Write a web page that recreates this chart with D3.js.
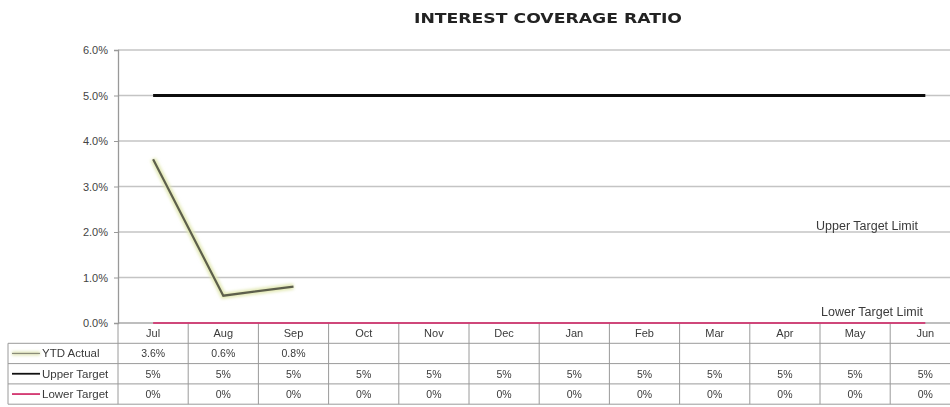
<!DOCTYPE html>
<html>
<head>
<meta charset="utf-8">
<script src="https://cdn.jsdelivr.net/npm/d3@7/dist/d3.min.js"></script>
<style>
  html, body { margin: 0; padding: 0; background: #fff; overflow: hidden; }
  svg { display: block; }
  .lbl { font-family: "Liberation Sans Narrow", "Arial Narrow", "Liberation Sans", Arial, sans-serif; fill: #3a3a3a; }
</style>
</head>
<body>
<svg id="chart" width="950" height="407"></svg>
<script>
// Monthly interest coverage ratio (%), fiscal year Jul–Jun
const months = ["Jul", "Aug", "Sep", "Oct", "Nov", "Dec", "Jan", "Feb", "Mar", "Apr", "May", "Jun"];
const ytdActual = [3.6, 0.6, 0.8, null, null, null, null, null, null, null, null, null];
const upperTarget = [5, 5, 5, 5, 5, 5, 5, 5, 5, 5, 5, 5];
const lowerTarget = [0, 0, 0, 0, 0, 0, 0, 0, 0, 0, 0, 0];
const yTicks = [0, 1, 2, 3, 4, 5, 6];
const seriesNames = ["YTD Actual", "Upper Target", "Lower Target"];
const title = "INTEREST COVERAGE RATIO";
const upperLabel = "Upper Target Limit";
const lowerLabel = "Lower Target Limit";

const svg = d3.select("#chart");
const plotLeft = 118, colW = 70.2, plotTop = 50, plotBottom = 323;
const rowH = 20.3;
const tableLeft = 8;

const x = d3.scaleBand().domain(months).range([plotLeft, plotLeft + colW * months.length]);
const y = d3.scaleLinear().domain([0, 6]).range([plotBottom, plotTop]);
const cx = m => x(m) + x.bandwidth() / 2;

const defs = svg.append("defs");
defs.append("filter").attr("id", "halo").attr("filterUnits", "userSpaceOnUse")
  .attr("x", 0).attr("y", 0).attr("width", 950).attr("height", 407)
  .append("feGaussianBlur").attr("stdDeviation", 1.6);
defs.append("filter").attr("id", "soft").attr("filterUnits", "userSpaceOnUse")
  .attr("x", 0).attr("y", 0).attr("width", 950).attr("height", 407)
  .append("feGaussianBlur").attr("stdDeviation", 0.45);

// title
svg.append("text")
  .attr("x", 548).attr("y", 23)
  .attr("text-anchor", "middle")
  .style("font-family", "'DejaVu Sans', Verdana, sans-serif")
  .style("font-weight", "bold").style("font-size", "14px").style("fill", "#222")
  .attr("textLength", 268).attr("lengthAdjust", "spacingAndGlyphs")
  .attr("filter", "url(#soft)")
  .text(title);

// gridlines
const g = svg.append("g").attr("filter", "url(#soft)");
g.selectAll("line.grid").data(yTicks).join("line")
  .attr("x1", plotLeft).attr("x2", 950)
  .attr("y1", d => y(d)).attr("y2", d => y(d))
  .attr("stroke", d => d === 0 ? "#a8a8a8" : "#c4c4c4").attr("stroke-width", 1.6);

// y axis
const yAxis = d3.axisLeft(y).tickValues(yTicks).tickSize(4).tickPadding(6)
  .tickFormat(d => d3.format(".1f")(d) + "%");
const ya = svg.append("g").attr("transform", `translate(${plotLeft},0)`).call(yAxis);
ya.select(".domain").attr("stroke", "#999").attr("stroke-width", 1.3);
ya.selectAll(".tick line").attr("stroke", "#999");
ya.selectAll(".tick text").attr("class", "lbl").style("font-size", "11px").style("fill", "#444");

// table grid
const tableBottom = plotBottom + rowH * 4;
const tg = svg.append("g").attr("filter", "url(#soft)").attr("stroke", "#9a9a9a").attr("stroke-width", 1);
[1, 2, 3, 4].forEach(i => {
  tg.append("line").attr("x1", tableLeft).attr("x2", 950)
    .attr("y1", plotBottom + rowH * i).attr("y2", plotBottom + rowH * i);
});
tg.append("line").attr("x1", plotLeft).attr("x2", plotLeft).attr("y1", plotBottom).attr("y2", tableBottom);
tg.append("line").attr("x1", tableLeft).attr("x2", tableLeft).attr("y1", plotBottom + rowH).attr("y2", tableBottom);
months.forEach(m => {
  tg.append("line").attr("x1", x(m) + colW).attr("x2", x(m) + colW)
    .attr("y1", plotBottom).attr("y2", tableBottom);
});

const txt = svg.append("g").attr("filter", "url(#soft)");

// month headers
txt.selectAll("text.month").data(months).join("text")
  .attr("class", "lbl month")
  .attr("x", d => cx(d)).attr("y", plotBottom + rowH * 0.5 + 4)
  .attr("text-anchor", "middle").style("font-size", "11px")
  .text(d => d);

// table values
const fmtActual = v => v == null ? "" : d3.format(".1f")(v) + "%";
const fmtTarget = v => v == null ? "" : d3.format("d")(v) + "%";
const rows = [
  { values: ytdActual, fmt: fmtActual },
  { values: upperTarget, fmt: fmtTarget },
  { values: lowerTarget, fmt: fmtTarget }
];
rows.forEach((r, ri) => {
  txt.append("g").selectAll("text").data(months).join("text")
    .attr("class", "lbl")
    .attr("x", d => cx(d)).attr("y", plotBottom + rowH * (ri + 1.5) + 4)
    .attr("text-anchor", "middle").style("font-size", "10.5px")
    .text((d, i) => r.fmt(r.values[i]));
});

// series styles
const colors = ["#5d5f4c", "#111111", "#d2336e"];
const widths = [2.2, 2.8, 2];

// legend keys in table
seriesNames.forEach((name, i) => {
  const yy = plotBottom + rowH * (i + 1.5);
  if (i === 0) {
    svg.append("line").attr("x1", 12).attr("x2", 40).attr("y1", yy).attr("y2", yy)
      .attr("stroke", "#dfe5b8").attr("stroke-width", 4).attr("filter", "url(#halo)");
  }
  svg.append("line").attr("x1", 12).attr("x2", 40).attr("y1", yy).attr("y2", yy)
    .attr("stroke", i === 0 ? "#8a8c78" : colors[i]).attr("stroke-width", i === 0 ? 1.2 : 1.8);
  txt.append("text").attr("class", "lbl").attr("x", 42).attr("y", yy + 4)
    .style("font-size", "11.5px").text(name);
});

// lines
const lineGen = vals => d3.line()
  .defined((d, i) => vals[i] != null)
  .x((d, i) => cx(months[i]))
  .y((d, i) => y(vals[i]))(vals);

svg.append("path").attr("d", lineGen(lowerTarget)).attr("fill", "none")
  .attr("stroke", colors[2]).attr("stroke-width", widths[2]).attr("opacity", 0.85);
svg.append("path").attr("d", lineGen(upperTarget)).attr("fill", "none")
  .attr("stroke", colors[1]).attr("stroke-width", widths[1]).attr("filter", "url(#soft)");
svg.append("path").attr("d", lineGen(ytdActual)).attr("fill", "none")
  .attr("stroke", "#e3e9b5").attr("stroke-width", 6).attr("filter", "url(#halo)");
svg.append("path").attr("d", lineGen(ytdActual)).attr("fill", "none")
  .attr("stroke", colors[0]).attr("stroke-width", widths[0]).attr("stroke-linejoin", "miter");

// target limit annotations
txt.append("text").attr("class", "lbl").attr("x", 867).attr("y", y(2) - 2)
  .attr("text-anchor", "middle").style("font-size", "12.5px").text(upperLabel);
txt.append("text").attr("class", "lbl").attr("x", 872).attr("y", plotBottom - 7)
  .attr("text-anchor", "middle").style("font-size", "12.5px").text(lowerLabel);
</script>
</body>
</html>
